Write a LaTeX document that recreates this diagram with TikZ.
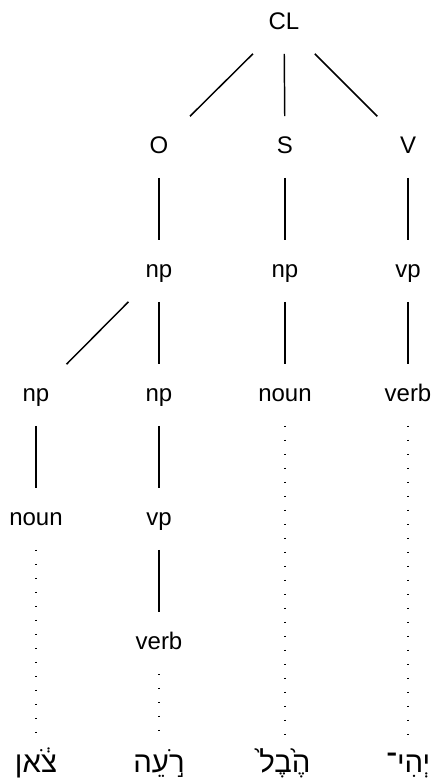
\documentclass[tikz,border=0pt]{standalone}
\usepackage{fontspec}
\setmainfont{Liberation Sans}
\newfontfamily\hebfont[Script=Hebrew]{Liberation Sans}
\TeXXeTstate=1

\begin{document}
\begin{tikzpicture}[x=0.75pt,y=-0.75pt,
    cat/.style={minimum height=45.75pt,minimum width=60pt,inner sep=0pt,text height=12.5pt,text depth=3.5pt,font=\fontsize{18}{21}\selectfont},
    word/.style={cat,font=\hebfont\fontsize{22}{26}\selectfont},
    branch/.style={-,line width=1.1pt},
    leaf/.style={-,line width=1.2pt,dash pattern=on 1.2pt off 9.3pt}]
    \useasboundingbox (0,0) rectangle (442,782);

    \node  (0) at (284,23)  [cat] {CL};
    \node  (1) at (159,147) [cat] {O};
    \node  (2) at (285,147) [cat] {S};
    \node  (3) at (408,147) [cat] {V};
    \node  (4) at (159,271) [cat] {np};
    \node  (5) at (285,271) [cat] {np};
    \node  (6) at (408,271) [cat] {vp};
    \node  (7) at (36,395)  [cat] {np};
    \node  (8) at (159,395) [cat] {np};
    \node  (9) at (285,395) [cat] {noun};
    \node (10) at (408,395) [cat] {verb};
    \node (11) at (36,519)  [cat] {noun};
    \node (12) at (159,519) [cat] {vp};
    \node (13) at (159,643) [cat] {verb};

    \node (14) at (36,766)  [word] {\beginR צֹ֔אן\endR};
    \node (15) at (159,766) [word] {\beginR רֹ֣עֵה\endR};
    \node (16) at (285,766) [word] {\beginR הֶ֙בֶל֙\endR};
    \node (17) at (408,766) [word] {\beginR יְהִי־\endR};

    \draw[branch]  (0) to  (1);
    \draw[branch]  (0) to  (2);
    \draw[branch]  (0) to  (3);
    \draw[branch]  (1) to  (4);
    \draw[branch]  (2) to  (5);
    \draw[branch]  (3) to  (6);
    \draw[branch]  (4) to  (7);
    \draw[branch]  (4) to  (8);
    \draw[branch]  (5) to  (9);
    \draw[branch]  (6) to (10);
    \draw[branch]  (7) to (11);
    \draw[branch]  (8) to (12);
    \draw[branch] (12) to (13);

    \draw[leaf] (11) to (14);
    \draw[leaf] (13) to (15);
    \draw[leaf]  (9) to (16);
    \draw[leaf] (10) to (17);

\end{tikzpicture}
\end{document}
